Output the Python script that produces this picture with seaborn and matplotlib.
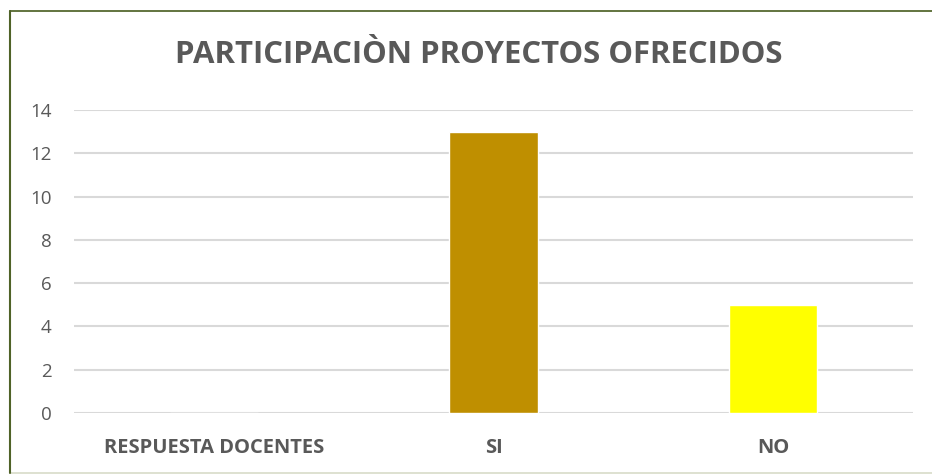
import matplotlib
matplotlib.use("Agg")
import matplotlib.pyplot as plt
import seaborn as sns
import pandas as pd
from matplotlib.patches import Rectangle

# ------ Data ------
categories = ["RESPUESTA DOCENTES", "SI", "NO"]
values = [0, 13, 5]
bar_colors = ["#BF8F00", "#BF8F00", "#FFFF00"]
y_ticks = [0, 2, 4, 6, 8, 10, 12, 14]

df = pd.DataFrame({"categoria": categories, "valor": values})

sns.set_style("white")
plt.rcParams["font.family"] = ["Open Sans", "DejaVu Sans"]

fig = plt.figure(figsize=(9.32, 4.75), dpi=100)
W, H = 932, 475
ax = fig.add_axes([74 / W, 1 - 413 / H, (913 - 74) / W, (413 - 110) / H])

sns.barplot(data=df, x="categoria", y="valor", hue="categoria",
            palette=bar_colors, width=0.315, legend=False, ax=ax,
            saturation=1, zorder=3)

ax.set_ylim(0, 14)
ax.set_xlim(-0.5, 2.5)
ax.set_yticks(y_ticks)
ax.set_yticklabels([str(t) for t in y_ticks], fontsize=13.5, color="#595959")
ax.set_xticks(range(len(categories)))
ax.set_xticklabels(categories, fontsize=14.5, fontweight="bold", color="#595959")
ax.tick_params(axis="both", length=0)
ax.tick_params(axis="y", pad=16)
ax.tick_params(axis="x", pad=18)
ax.set_xlabel("")
ax.set_ylabel("")
ax.grid(axis="y", color="#D9D9D9", linewidth=1.5, zorder=0)
ax.set_axisbelow(True)
for s in ax.spines.values():
    s.set_visible(False)

fig.text(479 / W, 1 - 55 / H, "PARTICIPACIÒN PROYECTOS OFRECIDOS",
         ha="center", va="center", fontsize=22.4, fontweight="bold",
         color="#595959")

# ------ Chart border ------
fig.patches.append(Rectangle((10 / W, 1 - 473 / H), 930 / W, 462 / H,
                             transform=fig.transFigure, fill=False,
                             edgecolor="#D8DCC8", linewidth=1.2))
fig.add_artist(plt.Line2D([10 / W, 10 / W], [1 - 473 / H, 1 - 11 / H],
                          transform=fig.transFigure, color="#4F6228", linewidth=1.5))
fig.add_artist(plt.Line2D([10 / W, 1], [1 - 11 / H, 1 - 11 / H],
                          transform=fig.transFigure, color="#4F6228", linewidth=1.2))

fig.savefig("out.png", dpi=100)
